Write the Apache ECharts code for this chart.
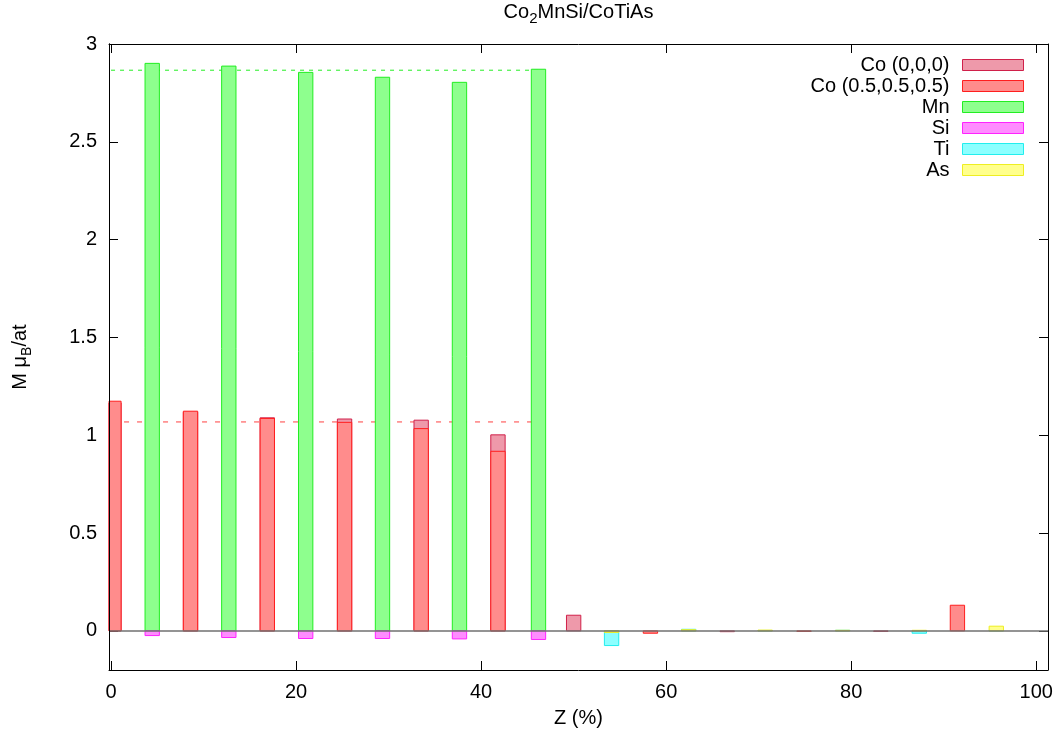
<!DOCTYPE html>
<html><head><meta charset="utf-8">
<script src="https://cdn.jsdelivr.net/npm/echarts/dist/echarts.min.js"></script>
<style>html,body{margin:0;padding:0;background:#fff}#c{width:1059px;height:740px}</style>
</head><body><div id="c"></div>
<script>
// ---- data ----
const coAX = [0.31, 8.59, 16.89, 25.24, 33.52, 41.82, 50.0, 66.6, 83.2];
const coAY = [1.165, 1.118, 1.089, 1.083, 1.077, 1.002, 0.080, -0.004, -0.003];
const coBX = [0.31, 8.59, 16.89, 25.24, 33.52, 41.82, 58.3, 74.9, 91.48];
const coBY = [1.174, 1.123, 1.086, 1.066, 1.034, 0.918, -0.012, -0.003, 0.131];
const mnX  = [4.45, 12.73, 21.04, 29.34, 37.66, 46.2];
const mnY  = [2.901, 2.887, 2.855, 2.830, 2.804, 2.871];
const siX  = [4.45, 12.73, 21.04, 29.34, 37.66, 46.2];
const siY  = [-0.024, -0.034, -0.039, -0.039, -0.041, -0.044];
const tiX  = [54.1, 62.43, 70.7, 79.07, 87.36, 95.68];
const tiY  = [-0.075, 0.008, 0.002, 0.003, -0.012, 0.003];
const asX  = [54.1, 62.43, 70.7, 79.07, 87.36, 95.68];
const asY  = [-0.008, 0.006, 0.004, 0.003, 0.003, 0.024];
const mnMean = 2.866;
const coMean = 1.068;
const meanRange = [0, 46.2];
const names = ['Co (0,0,0)', 'Co (0.5,0.5,0.5)', 'Mn', 'Si', 'Ti', 'As'];
const BAR = 1.55;        // bar width in x units
const X_MIN = -0.22, X_MAX = 101.27, Y_MIN = -0.2, Y_MAX = 3;

const FONT = "'Liberation Sans', Arial, Helvetica, sans-serif";
const styles = [
  {fill: '#EE99AA', stroke: '#D0204A'},
  {fill: '#FF8C8C', stroke: '#FF1E1E'},
  {fill: '#8EFF8E', stroke: '#22EE22'},
  {fill: '#FF8CFF', stroke: '#FF22FF'},
  {fill: '#8CFFFF', stroke: '#22EEEE'},
  {fill: '#FFFF8C', stroke: '#EEEE22'}
];

function barSeries(idx, xs, ys) {
  const st = styles[idx];
  return {
    name: names[idx], type: 'custom', z: 2 + idx * 0.01,
    xAxisIndex: 0, yAxisIndex: 0,
    data: xs.map((x, i) => [x, ys[i]]),
    encode: {x: 0, y: 1},
    itemStyle: {color: st.fill, borderColor: st.stroke},
    renderItem: function (params, api) {
      const x = api.value(0), y = api.value(1);
      const a = api.coord([x - BAR / 2, y]);
      const b = api.coord([x + BAR / 2, 0]);
      const rect = {x: a[0], y: Math.min(a[1], b[1]), width: b[0] - a[0], height: Math.max(Math.abs(b[1] - a[1]), 0.01)};
      const cs = params.coordSys;
      const c = echarts.graphic.clipRectByRect(rect, {x: cs.x, y: cs.y, width: cs.width, height: cs.height});
      if (!c) return;
      return {type: 'rect', shape: c, style: {fill: st.fill, stroke: st.stroke, lineWidth: 1}};
    }
  };
}

const tickCommon = {show: true, inside: true, length: 9, lineStyle: {color: '#000', width: 1}};
const lineCommon = {show: true, onZero: false, lineStyle: {color: '#000', width: 1}};

const chart = echarts.init(document.getElementById('c'), null, {renderer: 'canvas'});
chart.setOption({
  backgroundColor: '#fff',
  animation: false,
  textStyle: {fontFamily: FONT},
  grid: {left: 109, right: 11, top: 44, bottom: 70, outerBoundsMode: 'none', containLabel: false},
  graphic: [{
    type: 'text', x: 578.5, y: -1, z: 10,
    style: {
      text: 'Co{s|2}MnSi/CoTiAs', align: 'center', verticalAlign: 'top',
      fontFamily: FONT, fontSize: 20, lineHeight: 27, fill: '#000',
      rich: {s: {fontFamily: FONT, fontSize: 15, lineHeight: 15, verticalAlign: 'bottom', fill: '#000'}}
    }
  }],
  legend: {
    show: true, orient: 'vertical', right: 30, top: 50, align: 'right',
    itemWidth: 61, itemHeight: 11, itemGap: 1,
    textStyle: {fontFamily: FONT, fontSize: 20, lineHeight: 20, color: '#000', padding: [0, 8, 0, 0]},
    data: names.map((n, i) => ({name: n, icon: 'rect', itemStyle: {color: styles[i].fill, borderColor: styles[i].stroke, borderWidth: 1}}))
  },
  xAxis: [
    {type: 'value', position: 'bottom', min: X_MIN, max: X_MAX, splitNumber: 5,
     name: 'Z (%)', nameLocation: 'middle', nameGap: 38,
     nameTextStyle: {fontFamily: FONT, fontSize: 20, color: '#000'},
     axisLine: lineCommon, axisTick: tickCommon, splitLine: {show: false},
     axisLabel: {show: true, margin: 12, fontFamily: FONT, fontSize: 20, color: '#000', showMinLabel: false, showMaxLabel: false}},
    {type: 'value', position: 'top', min: X_MIN, max: X_MAX, splitNumber: 5,
     axisLine: lineCommon, axisTick: tickCommon, splitLine: {show: false}, axisLabel: {show: false}}
  ],
  yAxis: [
    {type: 'value', position: 'left', min: Y_MIN, max: Y_MAX, splitNumber: 5,
     name: 'M μ{s|B}/at', nameLocation: 'middle', nameGap: 75, nameRotate: 90,
     nameTextStyle: {fontFamily: FONT, fontSize: 20, lineHeight: 28, color: '#000',
       rich: {s: {fontFamily: FONT, fontSize: 14, lineHeight: 14, verticalAlign: 'bottom', color: '#000'}}},
     axisLine: lineCommon, axisTick: tickCommon, splitLine: {show: false},
     axisLabel: {show: true, margin: 12, fontFamily: FONT, fontSize: 20, color: '#000', showMinLabel: false}},
    {type: 'value', position: 'right', min: Y_MIN, max: Y_MAX, splitNumber: 5,
     axisLine: lineCommon, axisTick: tickCommon, splitLine: {show: false}, axisLabel: {show: false}},
    {type: 'value', position: 'left', min: Y_MIN, max: Y_MAX, z: 20,
     axisLine: lineCommon, axisTick: {show: false}, splitLine: {show: false}, axisLabel: {show: false}}
  ],
  series: [
    {type: 'line', name: 'zero', xAxisIndex: 0, yAxisIndex: 0, z: 1, data: [], silent: true,
     markLine: {silent: true, symbol: 'none', label: {show: false}, animation: false,
       lineStyle: {color: '#707070', width: 1.5, type: 'solid'}, data: [{yAxis: 0}]}},
    {type: 'line', name: 'mnMean', xAxisIndex: 0, yAxisIndex: 0, z: 1, silent: true, symbol: 'none',
     data: meanRange.map(x => [x, mnMean]), lineStyle: {color: '#22EE22', width: 1, type: [4, 5]}},
    {type: 'line', name: 'coMean', xAxisIndex: 0, yAxisIndex: 0, z: 1, silent: true, symbol: 'none',
     data: meanRange.map(x => [x, coMean]), lineStyle: {color: '#FF4040', width: 1, type: [5, 8]}},
    barSeries(0, coAX, coAY),
    barSeries(1, coBX, coBY),
    barSeries(2, mnX, mnY),
    barSeries(3, siX, siY),
    barSeries(4, tiX, tiY),
    barSeries(5, asX, asY)
  ]
});
</script></body></html>
